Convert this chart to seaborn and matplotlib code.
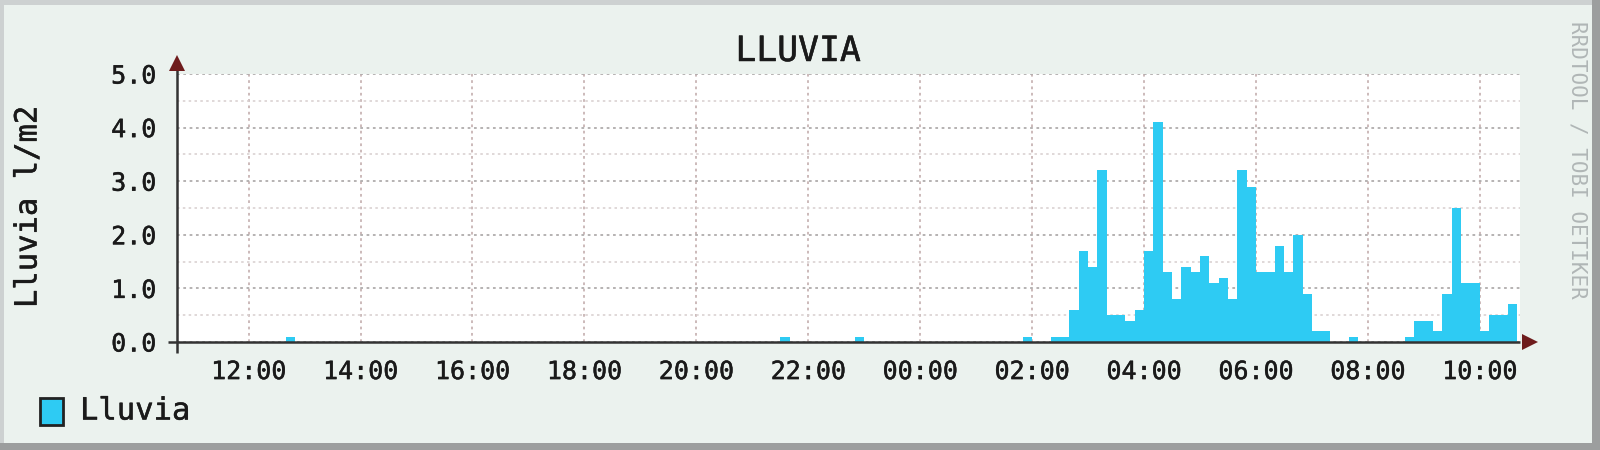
import numpy as np
import pandas as pd
import matplotlib
matplotlib.use("Agg")
import matplotlib.pyplot as plt
import matplotlib.patheffects as pe
import seaborn as sns
from matplotlib.patches import Rectangle
from matplotlib.ticker import MultipleLocator, FormatStrFormatter

# ---- data (10-minute bins, start time of each bin) ----
bin_times = ["12:40", "21:30", "22:50", "01:50", "02:20", "02:30", "02:40", "02:50",
             "03:00", "03:10", "03:20", "03:30", "03:40", "03:50", "04:00", "04:10",
             "04:20", "04:30", "04:40", "04:50", "05:00", "05:10", "05:20", "05:30",
             "05:40", "05:50", "06:00", "06:10", "06:20", "06:30", "06:40", "06:50",
             "07:00", "07:10", "07:40", "08:40", "08:50", "09:00", "09:10", "09:20",
             "09:30", "09:40", "09:50", "10:00", "10:10", "10:20", "10:30"]
rain = [0.1, 0.1, 0.1, 0.1, 0.1, 0.1, 0.6, 1.7,
        1.4, 3.2, 0.5, 0.5, 0.4, 0.6, 1.7, 4.1,
        1.3, 0.8, 1.4, 1.3, 1.6, 1.1, 1.2, 0.8,
        3.2, 2.9, 1.3, 1.3, 1.8, 1.3, 2.0, 0.9,
        0.2, 0.2, 0.1, 0.1, 0.4, 0.4, 0.2, 0.9,
        2.5, 1.1, 1.1, 0.2, 0.5, 0.5, 0.7]
tick_labels = ["12:00", "14:00", "16:00", "18:00", "20:00", "22:00",
               "00:00", "02:00", "04:00", "06:00", "08:00", "10:00"]
y_ticks = [0.0, 1.0, 2.0, 3.0, 4.0, 5.0]

title = "LLUVIA"
ylabel = "Lluvia l/m2"
legend_label = "Lluvia"
side_text = "RRDTOOL / TOBI OETIKER"

def to_hours(s):
    h, m = map(int, s.split(":"))
    v = h + m / 60.0
    return v + 24 if v < 10.7 else v

df = pd.DataFrame({"t": [to_hours(s) + 1 / 12 for s in bin_times], "Lluvia": rain})
tick_pos = [to_hours(s) for s in tick_labels]

sns.set_style("white")
plt.rcParams["font.family"] = ["DejaVu Sans Mono", "DejaVu Sans"]

BG = "#EBF2EE"
BAR = "#2ECBF3"
TXT = "#1a1a1a"
thick = [pe.withStroke(linewidth=0.35, foreground=TXT)]

W, H = 1600, 450
fig = plt.figure(figsize=(16, 4.5), dpi=100, facecolor=BG)
x0, x1, ytop, ybot = 177, 1520, 74, 342
ax = fig.add_axes([x0 / W, 1 - ybot / H, (x1 - x0) / W, (ybot - ytop) / H])
ax.set_facecolor("white")

sns.histplot(data=df, x="t", weights="Lluvia", binwidth=1 / 6, binrange=(64 / 6, 209 / 6),
             color=BAR, alpha=1, linewidth=0, ax=ax, zorder=2)

ax.set_xlim(10.72, 34.72)
ax.set_ylim(0, 5.0)
ax.set_xlabel("")
ax.set_ylabel("")

ax.set_xticks(tick_pos)
ax.set_xticklabels(tick_labels)
ax.set_yticks(y_ticks)
ax.yaxis.set_major_formatter(FormatStrFormatter("%.1f"))
ax.yaxis.set_minor_locator(MultipleLocator(0.5))

ax.set_axisbelow(True)
ax.grid(False)
ax.yaxis.grid(True, which="major", color="#b0acac", linestyle=(0, (1.5, 2.0)), linewidth=1.3)
ax.yaxis.grid(True, which="minor", color="#dad2d2", linestyle=(0, (1.5, 2.0)), linewidth=1.2)
ax.xaxis.grid(True, which="major", color="#c8b4b4", linestyle=(0, (1.5, 2.0)), linewidth=1.3)

ax.tick_params(axis="x", which="major", length=5, width=1.2, color="#555555",
               pad=8, labelsize=18, labelcolor=TXT)
ax.tick_params(axis="y", which="major", length=4, width=1.2, color="#555555",
               pad=11, labelsize=18, labelcolor=TXT)
ax.tick_params(axis="y", which="minor", length=0)
for lab in ax.get_xticklabels() + ax.get_yticklabels():
    lab.set_path_effects(thick)
for s in ax.spines.values():
    s.set_visible(False)

# axes with arrows
AX_C = "#333333"
ARR_C = "#6e1c1c"
ax.plot([-0.007, 1.0], [0, 0], transform=ax.transAxes, color=AX_C, lw=1.8,
        clip_on=False, zorder=5, solid_capstyle="butt")
ax.plot([0, 0], [-0.04, 1.03], transform=ax.transAxes, color=AX_C, lw=1.8,
        clip_on=False, zorder=5, solid_capstyle="butt")
ax.plot([1.0075], [0], marker=">", ms=11, color=ARR_C, transform=ax.transAxes,
        clip_on=False, zorder=6, markeredgewidth=0)
ax.plot([0], [1.041], marker="^", ms=11, color=ARR_C, transform=ax.transAxes,
        clip_on=False, zorder=6, markeredgewidth=0)

# texts
fig.text(798 / W, 1 - 51 / H, title, ha="center", va="center", fontsize=25, color=TXT,
         path_effects=thick)
fig.text(28 / W, 1 - 207 / H, ylabel, ha="center", va="center", rotation=90,
         fontsize=22, color=TXT, path_effects=thick)
fig.text(1577 / W, 1 - 160 / H, side_text, ha="center", va="center", rotation=270,
         fontsize=15, color="#b0b6b6")

# legend
fig.patches.append(Rectangle((40 / W, 1 - 425 / H), 23 / W, 27 / H, transform=fig.transFigure,
                             facecolor=BAR, edgecolor="#222222", linewidth=2, figure=fig))
fig.text(80 / W, 1 - 411 / H, legend_label, ha="left", va="center", fontsize=22, color=TXT,
         path_effects=thick)

# frame
fig.patches.append(Rectangle((0, 1 - 5 / H), 1, 5 / H, transform=fig.transFigure,
                             facecolor="#cdd1d1", edgecolor="none", figure=fig))
fig.patches.append(Rectangle((0, 0), 4 / W, 1, transform=fig.transFigure,
                             facecolor="#cdd1d1", edgecolor="none", figure=fig))
fig.patches.append(Rectangle((0, 0), 1, 7 / H, transform=fig.transFigure,
                             facecolor="#9c9e9e", edgecolor="none", figure=fig))
fig.patches.append(Rectangle((1 - 8 / W, 0), 8 / W, 1, transform=fig.transFigure,
                             facecolor="#9c9e9e", edgecolor="none", figure=fig))

fig.savefig("out.png", dpi=100, facecolor=BG)
